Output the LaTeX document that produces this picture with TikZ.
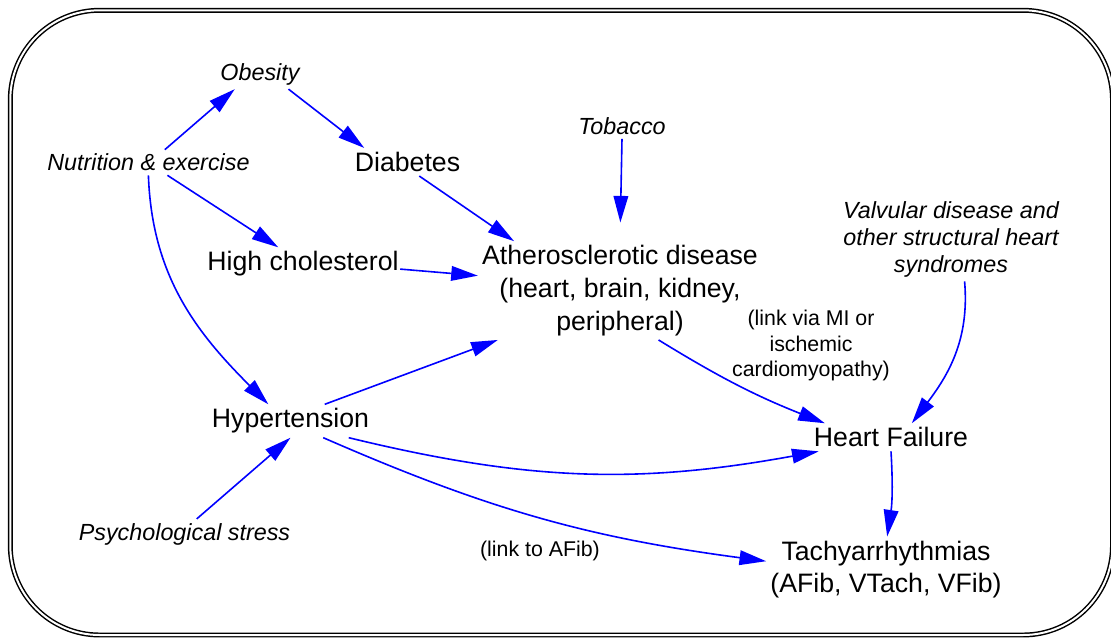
\documentclass[tikz,border=0pt]{standalone}
\usepackage{fontspec}
\setmainfont{Liberation Sans}
\usetikzlibrary{arrows.meta}
\definecolor{linkblue}{RGB}{0,0,255}
\tikzset{
    factor/.style={
           font=\fontsize{17.5}{20}\selectfont\itshape,
           align=center,
           inner sep=3pt,
           },
    outcome/.style={
           font=\fontsize{20}{24.5}\selectfont,
           align=center,
           inner sep=3pt,
           },
    remark/.style={
           font=\fontsize{16}{19.1}\selectfont,
           align=center,
           inner sep=3pt,
           },
    link/.style={
           color=linkblue,
           line width=1.2pt,
           },
    border/.style={
           -, draw=black, line width=1.1pt,
           double=white, double distance=1.5pt,
           rounded corners=67pt,
           },
}

\begin{document}
\begin{tikzpicture}[x=0.75pt,y=-0.75pt,->,>={Triangle[length=20pt,width=11pt]},
  every edge/.append style={link}]
 \useasboundingbox (0,0) rectangle (1111,638);
 \draw[border] (10.3,10.3) rectangle (1112.5,635);

 \node[factor] (nutr) at (148.4,162.5) {Nutrition \& exercise};
 \node[factor] (obes) at (260,74) {Obesity};
 \node[outcome] (diab) at (407.5,162) {Diabetes};
 \node[factor] (toba) at (622,126) {Tobacco};
 \node[outcome, inner xsep=1pt] (chol) at (303,264) {High cholesterol};
 \node[outcome] (athe) at (620,290.6)
 {Atherosclerotic disease\\(heart, brain, kidney,\\peripheral)};
 \node[factor] (valv) at (951,239.5)
 {Valvular disease and\\other structural heart\\syndromes};
 \node[remark] (mi) at (811,345.5)
 {(link via MI or\\ischemic\\cardiomyopathy)};
 \node[outcome] (hyper) at (290.5,421) {Hypertension};
 \node[outcome] (hf) at (891,437.3) {Heart Failure};
 \node[factor] (psych) at (184.5,534) {Psychological stress};
 \node[remark] (afib) at (540,551) {(link to AFib)};
 \node[outcome] (tachy) at (886,569.6)
 {Tachyarrhythmias\\(AFib, VTach, VFib)};

 % causal links
\path
  (nutr.38) edge (obes.211)
  (obes.-28) edge (diab.162)
  (nutr.-34) edge (chol.146)
  (nutr.south) edge[out=-88, in=135] (hyper.143)
  (diab.-50) edge (athe.155)
  (toba.south) edge[shorten >=14pt] (athe.north)
  (chol.-3) edge (athe.174)
  (hyper.26) edge (athe.202)
  (athe.-52) edge[bend right=5] (hf.168)
  (valv.-72) edge[out=-85, in=53] (hf.34)
  (hyper.-16) edge[bend right=12] (hf.191)
  (hyper.-27) edge[bend right=8] (tachy.176)
  (hf.south) edge[bend left=6] (tachy.88)
  (psych.51) edge (hyper.south)
 ;
\end{tikzpicture}
\end{document}
